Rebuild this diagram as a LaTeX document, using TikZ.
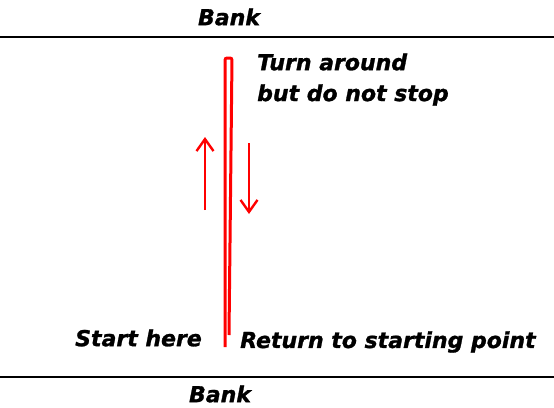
\documentclass[tikz,border=0pt]{standalone}
\usepackage{fontspec}
\setmainfont{DejaVu Sans}[BoldItalicFeatures={FakeBold=1.2}]
\usetikzlibrary{arrows.meta}
\definecolor{cPath}{HTML}{FF0000}
\definecolor{cBank}{HTML}{000000}
\tikzset{
  bank/.style={line width=2.8pt, cBank},
  lbl/.style={font=\fontsize{22}{26}\selectfont\bfseries\itshape, inner sep=0pt, align=left},
  swim/.style={cPath, line width=3pt, rounded corners=2pt},
  ar/.style={-{Straight Barb[length=12pt, width=17pt, line width=2.4pt]}, cPath, line width=2.6pt},
}

\begin{document}
\begin{tikzpicture}[x=1pt, y=-1pt]
    \useasboundingbox[fill=white] (0,0) rectangle (554,407);
    % banks
    \coordinate (bankTL) at (0,37);
    \coordinate (bankTR) at (554,37);
    \coordinate (bankBL) at (0,377);
    \coordinate (bankBR) at (554,377);
    \draw[bank] (bankTL) -- (bankTR);
    \draw[bank] (bankBL) -- (bankBR);
    \node[lbl] (bankTop) at (229,17) {Bank};
    \node[lbl] (bankBot) at (220,394) {Bank};
    % the swim out and back
    \coordinate (start) at (225,347);
    \coordinate (turnL) at (225,58);
    \coordinate (turnR) at (232,58);
    \coordinate (back) at (229,335);
    \draw[swim] (start) -- (turnL) -- (turnR) -- (back);
    \coordinate (upA) at (205,210);
    \coordinate (upB) at (205,137);
    \coordinate (downA) at (249,143);
    \coordinate (downB) at (249,214);
    \draw[ar] (upA) -- (upB);
    \draw[ar] (downA) -- (downB);
    % labels
    \node[lbl, anchor=west] (turn) at (257,62) {Turn around};
    \node[lbl, anchor=west] (stop) at (257,95) {but do not stop};
    \node[lbl, anchor=west] (here) at (75,338) {Start here};
    \node[lbl, anchor=west] (ret) at (240,342) {Return to starting point};
  \end{tikzpicture}
\end{document}
